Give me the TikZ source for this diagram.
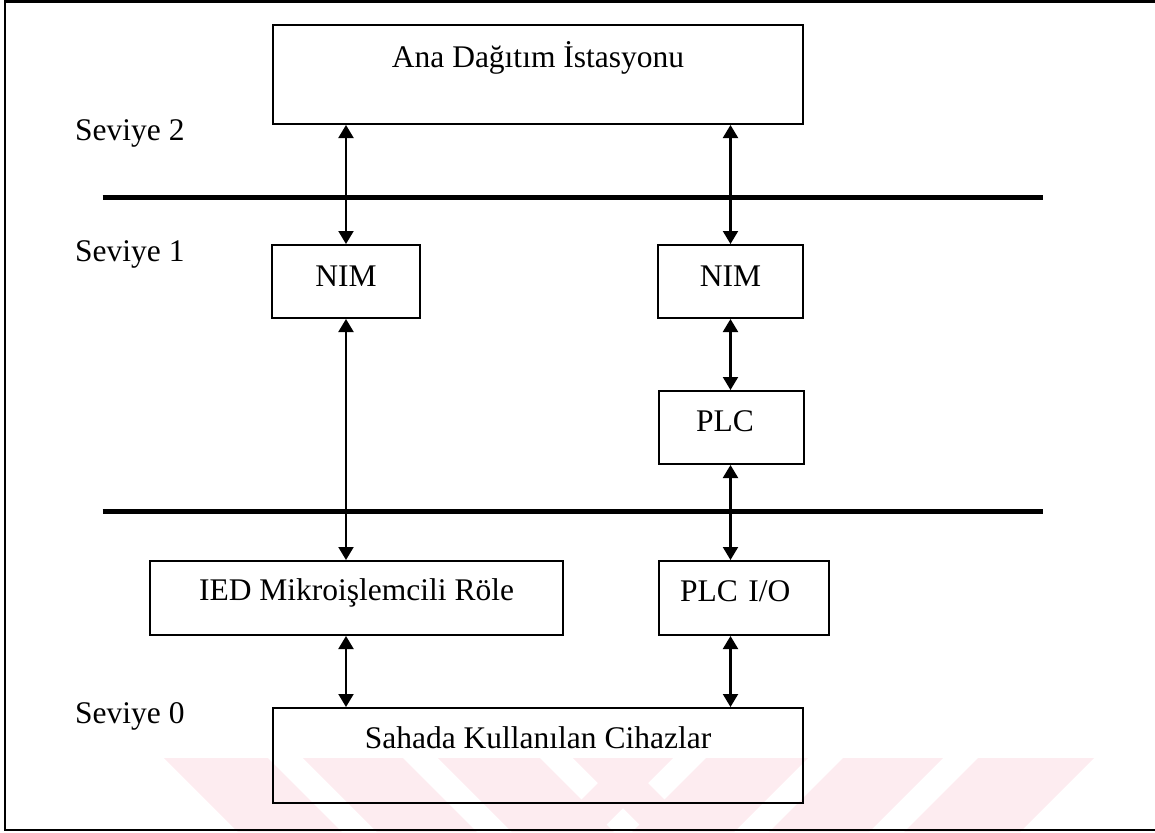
\documentclass[tikz,border=0pt]{standalone}
\usepackage{fontspec}
\setmainfont{Liberation Serif}
\usetikzlibrary{arrows.meta}
\definecolor{wmpink}{RGB}{253,236,240}
\tikzset{
  blk/.style={draw, line width=2pt, inner sep=0pt, anchor=base},
  lvl/.style={inner sep=0pt, anchor=base west},
  link/.style={line width=2.1pt, {Triangle[length=13pt,width=15pt]}-{Triangle[length=13pt,width=15pt]}},
  bus/.style={line width=5pt},
  frame/.style={line width=2.5pt},
  wm/.style={fill=wmpink, draw=none}
}
\begin{document}
\begin{tikzpicture}[x=1pt, y=-1pt,
  font=\fontsize{31.5}{36}\selectfont]
\useasboundingbox (0,0) rectangle (1155,832);

% faint stripes along the bottom edge
\foreach \a/\b in {164/268, 303/403, 438/540, 573/623}
  \fill[wm] (\a,758) -- (\b,758) -- (\b+74,832) -- (\a+74,832) -- cycle;
\foreach \a/\b in {623/673, 706/808, 843/943, 978/1094}
  \fill[wm] (\a,758) -- (\b,758) -- (\b-74,832) -- (\a-74,832) -- cycle;

% outer frame (open on the right)
\draw[frame] (1160,1.5) -- (5,1.5) -- (5,830) -- (1160,830);

% level labels
\node[lvl] (lv2) at (75,140) {Seviye 2};
\node[lvl] (lv1) at (75,261) {Seviye 1};
\node[lvl] (lv0) at (75,723) {Seviye 0};

% level separators
\coordinate (busAw) at (102.5,197.5);
\coordinate (busAe) at (1042.5,197.5);
\coordinate (busBw) at (102.5,511.5);
\coordinate (busBe) at (1042.5,511.5);
\draw[bus] (busAw) -- (busAe);
\draw[bus] (busBw) -- (busBe);

% blocks
\node[blk, minimum width=530pt, text height=43pt, text depth=56pt] (ana) at (538,68) {Ana Dağıtım İstasyonu};
\node[blk, minimum width=148pt, text height=41.5pt, text depth=31.5pt] (nimL) at (346,286.5) {NIM};
\node[blk, minimum width=145pt, text height=41pt, text depth=32pt] (nimR) at (730.5,286) {NIM};
\node[blk, anchor=base west, inner xsep=37pt, text width=71pt, align=left, text height=40.7pt, text depth=32.3pt] (plc) at (658,431.7) {PLC};
\node[blk, minimum width=413pt, text height=39pt, text depth=35pt] (ied) at (356.5,600) {IED Mikroişlemcili Röle};
\node[blk, anchor=base west, inner xsep=21pt, text width=128pt, align=left, text height=40pt, text depth=34pt] (plcio) at (658,601) {PLC I/O};
\node[blk, minimum width=530pt, text height=40pt, text depth=55pt] (saha) at (538,748) {Sahada Kullanılan Cihazlar};

% connections
\draw[link] (ana.south -| nimL.center) -- (nimL.north);
\draw[link] (ana.south -| nimR.center) -- (nimR.north);
\draw[link] (nimL.south) -- (ied.north -| nimL.center);
\draw[link] (nimR.south) -- (plc.north -| nimR.center);
\draw[link] (plc.south -| nimR.center) -- (plcio.north -| nimR.center);
\draw[link] (ied.south -| nimL.center) -- (saha.north -| nimL.center);
\draw[link] (plcio.south -| nimR.center) -- (saha.north -| nimR.center);
\end{tikzpicture}
\end{document}
